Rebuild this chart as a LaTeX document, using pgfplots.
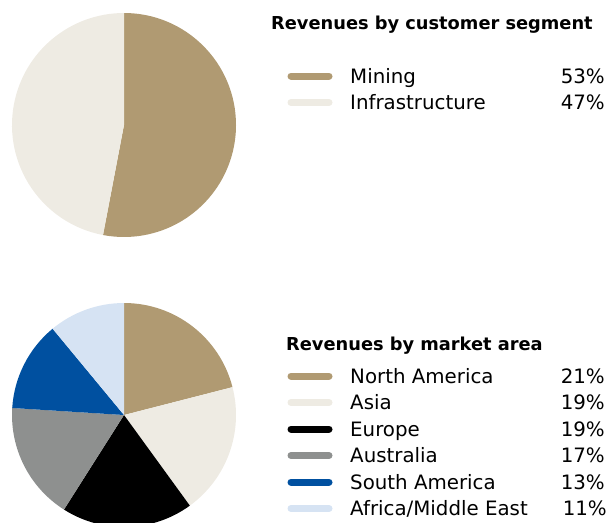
\documentclass[border=0pt]{standalone}
\usepackage{pgfplots}
\pgfplotsset{compat=1.18}
\usepackage{fontspec}
\setmainfont{DejaVu Sans}

\definecolor{cTan}{HTML}{B09A72}
\definecolor{cLight}{HTML}{EEEBE3}
\definecolor{cGray}{HTML}{8E908F}
\definecolor{cBlue}{HTML}{0050A0}
\definecolor{cSky}{HTML}{D6E3F3}

% slice: start (%), share (%), colour; clockwise from 12 o'clock
\newcommand{\pieslice}[3]{%
  \fill[#3] (axis cs:0,0) -- +({90-3.6*#1}:112pt)
    arc[start angle={90-3.6*#1}, end angle={90-3.6*(#1+#2)}, radius=112pt] -- cycle;}

\pgfplotsset{pie/.style={hide axis, scale only axis, width=224pt, height=224pt,
  xmin=-1, xmax=1, ymin=-1, ymax=1, anchor=center, clip=false}}

\newcommand{\rowtxt}{\fontsize{19.8}{22}\selectfont}
\newcommand{\ttltxt}{\fontsize{17.8}{20}\selectfont\bfseries}

\begin{document}
\begin{tikzpicture}
\clip (0pt,0pt) rectangle (609pt,-522pt);

% customer segment
\begin{axis}[pie, at={(124pt,-125pt)}]
\pieslice{0}{53}{cTan}
\pieslice{53}{47}{cLight}
\end{axis}

% market area
\begin{axis}[pie, at={(124pt,-415pt)}]
\pieslice{0}{21}{cTan}
\pieslice{21}{19}{cLight}
\pieslice{40}{19}{black}
\pieslice{59}{17}{cGray}
\pieslice{76}{13}{cBlue}
\pieslice{89}{11}{cSky}
\end{axis}

\node[anchor=base west, inner sep=0] at (271pt,-29.5pt) {\ttltxt Revenues by customer segment};
\node[anchor=base west, inner sep=0] at (286pt,-350pt) {\ttltxt Revenues by market area};

\foreach \y/\c/\t/\p in {76/cTan/Mining/53\%, 102.5/cLight/Infrastructure/47\%,
  376/cTan/North America/21\%, 402.5/cLight/Asia/19\%, 429/black/Europe/19\%,
  455.5/cGray/Australia/17\%, 482/cBlue/South America/13\%} {
  \draw[\c, line width=7pt, line cap=round] (291pt,-\y pt) -- (329pt,-\y pt);
  \node[anchor=base west, inner sep=0] at (350pt,-\y pt-7pt) {\rowtxt \t};
  \node[anchor=base east, inner sep=0] at (605pt,-\y pt-7pt) {\rowtxt \p};
}
\draw[cSky, line width=7pt, line cap=round] (291pt,-508.5pt) -- (329pt,-508.5pt);
\node[anchor=base west, inner sep=0] at (350pt,-515.5pt) {\rowtxt Africa/Middle East};
\node[anchor=base east, inner sep=0] at (607pt,-515.5pt) {\rowtxt 11\%};
\end{tikzpicture}
\end{document}
